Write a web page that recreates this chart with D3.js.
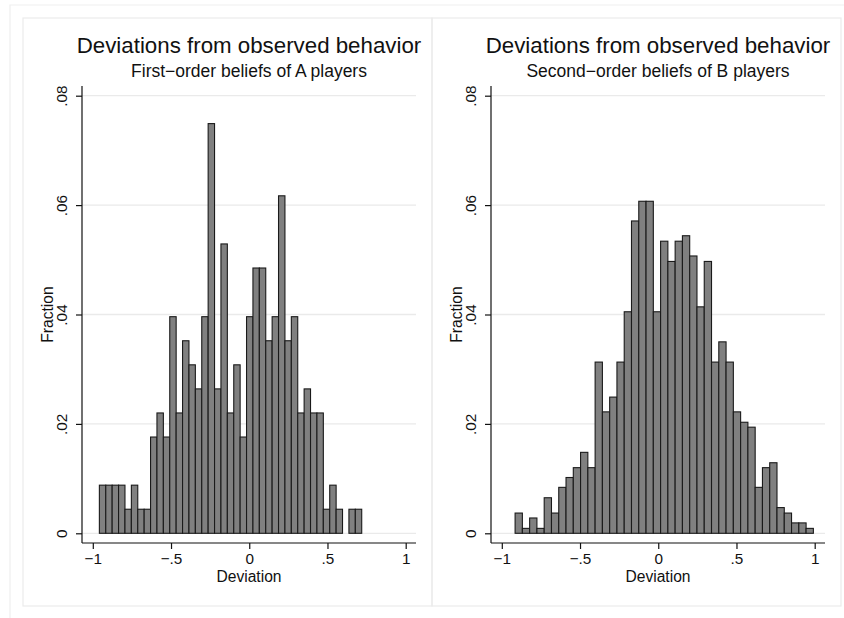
<!DOCTYPE html>
<html>
<head>
<meta charset="utf-8">
<script src="https://cdn.jsdelivr.net/npm/d3@7"></script>
<style>
  body { margin: 0; background: #fff; }
  svg { font-family: "Liberation Sans", Arial, Helvetica, sans-serif; }
</style>
</head>
<body>
<div class="chart"></div>
<script>
// histogram fractions (41 bins each)
const fracA = [0.0088, 0.0088, 0.0088, 0.0088, 0.0044, 0.0088, 0.0044, 0.0044, 0.0176, 0.0220,
               0.0176, 0.0396, 0.0220, 0.0352, 0.0308, 0.0264, 0.0396, 0.0749, 0.0264, 0.0529,
               0.0220, 0.0308, 0.0176, 0.0396, 0.0485, 0.0485, 0.0352, 0.0396, 0.0617, 0.0352,
               0.0396, 0.0220, 0.0264, 0.0220, 0.0220, 0.0044, 0.0088, 0.0044, 0, 0.0044, 0.0044];
const fracB = [0.0037, 0.0009, 0.0028, 0.0009, 0.0065, 0.0037, 0.0084, 0.0102, 0.0120, 0.0148,
               0.0120, 0.0313, 0.0222, 0.0249, 0.0313, 0.0405, 0.0571, 0.0607, 0.0607, 0.0405,
               0.0534, 0.0497, 0.0534, 0.0544, 0.0507, 0.0414, 0.0497, 0.0313, 0.0350, 0.0313,
               0.0222, 0.0203, 0.0194, 0.0084, 0.0120, 0.0129, 0.0047, 0.0037, 0.0019, 0.0019, 0.0009];
const binStart = [-0.958, -0.915];
const binWidth = [0.0409, 0.0465];

const titles = ["Deviations from observed behavior", "Deviations from observed behavior"];
const subtitles = ["First\u2212order beliefs of A players", "Second\u2212order beliefs of B players"];
const xTicks = [-1, -0.5, 0, 0.5, 1];
const xTickLabels = ["\u22121", "\u2212.5", "0", ".5", "1"];
const yTicks = [0, 0.02, 0.04, 0.06, 0.08];
const yTickLabels = ["0", ".02", ".04", ".06", ".08"];
const xTitle = "Deviation";
const yTitle = "Fraction";

const outWidth = 844, outHeight = 618;
const svg = d3.select(".chart").append("svg")
    .attr("width", outWidth)
    .attr("height", outHeight);

// outer frame (graph combine region)
svg.append("path")
    .attr("d", `M10,${outHeight}V5H${outWidth}`)
    .attr("fill", "none")
    .attr("stroke", "#efefef")
    .attr("stroke-width", 1.2);

const panelOffset = [0, 409];
const series = [fracA, fracB];

panelOffset.forEach((off, i) => {
    const g = svg.append("g").attr("transform", `translate(${off},0)`);

    // panel box
    g.append("rect")
        .attr("x", 23).attr("y", 18)
        .attr("width", 409).attr("height", 588)
        .attr("fill", "none")
        .attr("stroke", "#ebebeb")
        .attr("stroke-width", 1.2);

    const left = 82, right = 416, top = 86, bottom = 543;

    let xScale = d3.scaleLinear()
        .domain([-1, 1])
        .range([left + 10.8, right - 10.3]);
    let yScale = d3.scaleLinear()
        .domain([0, 0.08])
        .range([533.3, 95.7]);

    // grid
    g.append("g").selectAll("line")
        .data(yTicks)
        .enter().append("line")
        .attr("x1", left).attr("x2", right)
        .attr("y1", d => yScale(d)).attr("y2", d => yScale(d))
        .attr("stroke", "#eaeaea")
        .attr("stroke-width", 1.3);

    // bars
    const bins = series[i].map((f, k) => ({
        x0: binStart[i] + k * binWidth[i],
        x1: binStart[i] + (k + 1) * binWidth[i],
        f: f
    })).filter(d => d.f > 0);

    g.append("g").selectAll("rect")
        .data(bins)
        .enter().append("rect")
        .attr("x", d => xScale(d.x0))
        .attr("width", d => xScale(d.x1) - xScale(d.x0))
        .attr("y", d => yScale(d.f))
        .attr("height", d => yScale(0) - yScale(d.f))
        .attr("fill", "#808080")
        .attr("stroke", "#1a1a1a")
        .attr("stroke-width", 1.1);

    // x axis
    const xAxis = d3.axisBottom(xScale)
        .tickValues(xTicks)
        .tickFormat((d, k) => xTickLabels[k])
        .tickSize(6)
        .tickSizeOuter(0)
        .tickPadding(4);
    g.append("g")
        .attr("class", "axis x-axis")
        .attr("transform", `translate(0, ${bottom})`)
        .call(xAxis)
        .call(a => a.select(".domain").attr("d", `M${left},0H${right}`))
        .call(a => a.selectAll("line, path").attr("stroke", "#111").attr("stroke-width", 1.2))
        .call(a => a.selectAll("text").attr("font-size", 15.3).attr("fill", "#111")
            .attr("font-family", "Liberation Sans, Arial, sans-serif"));

    // y axis
    const yAxis = d3.axisLeft(yScale)
        .tickValues(yTicks)
        .tickFormat((d, k) => yTickLabels[k])
        .tickSize(6)
        .tickSizeOuter(0);
    g.append("g")
        .attr("class", "axis y-axis")
        .attr("transform", `translate(${left}, 0)`)
        .call(yAxis)
        .call(a => a.select(".domain").attr("d", `M0,${bottom}V${top}`))
        .call(a => a.selectAll("line, path").attr("stroke", "#111").attr("stroke-width", 1.2))
        .call(a => a.selectAll("text")
            .attr("font-size", 15.3).attr("fill", "#111")
            .attr("font-family", "Liberation Sans, Arial, sans-serif")
            .attr("text-anchor", "middle")
            .attr("transform", "rotate(-90)")
            .attr("x", 0).attr("y", -15).attr("dy", 0));

    // titles
    const cx = (left + right) / 2;
    g.append("text")
        .attr("x", cx).attr("y", 53)
        .attr("text-anchor", "middle")
        .attr("font-size", 22.3)
        .attr("fill", "#111")
        .text(titles[i]);
    g.append("text")
        .attr("x", cx).attr("y", 77)
        .attr("text-anchor", "middle")
        .attr("font-size", 17.5)
        .attr("fill", "#111")
        .text(subtitles[i]);

    g.append("text")
        .attr("x", cx).attr("y", 581.7)
        .attr("text-anchor", "middle")
        .attr("font-size", 15.6)
        .attr("fill", "#111")
        .text(xTitle);
    g.append("text")
        .attr("transform", `translate(53, ${(top + bottom) / 2}) rotate(-90)`)
        .attr("text-anchor", "middle")
        .attr("font-size", 15.6)
        .attr("fill", "#111")
        .text(yTitle);
});
</script>
</body>
</html>
